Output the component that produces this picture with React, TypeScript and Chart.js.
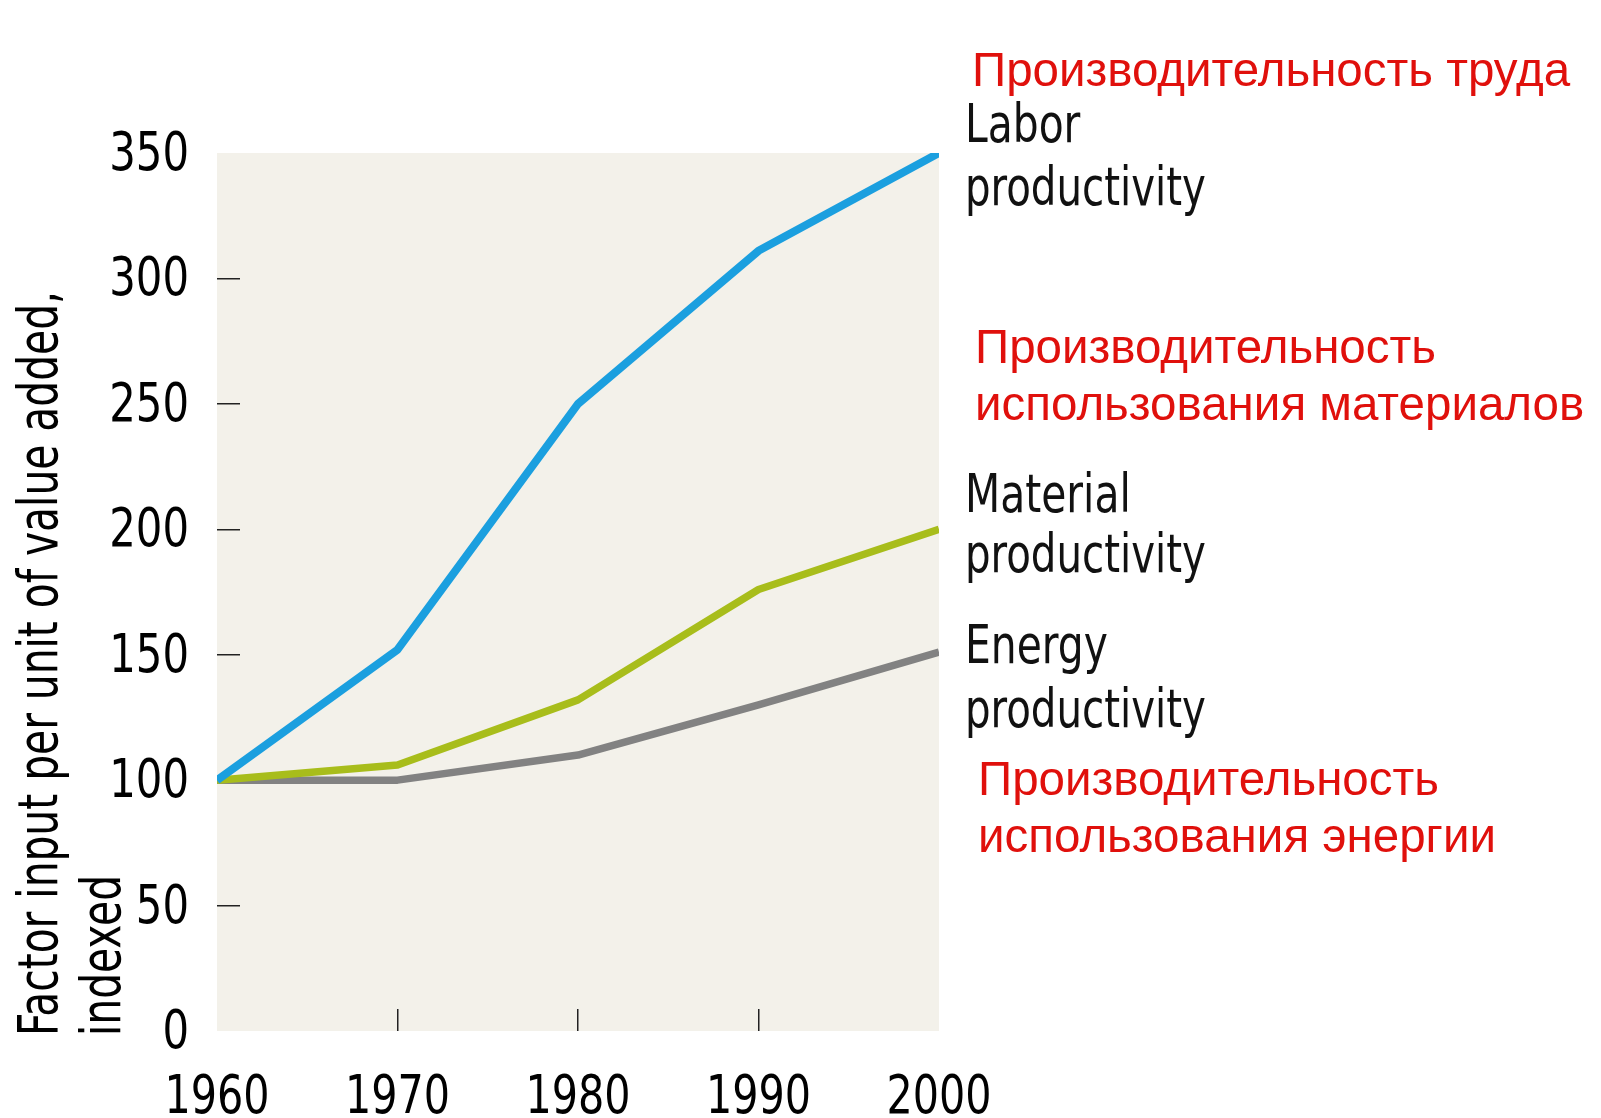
import React, { useEffect, useRef } from "react";
import { Chart, registerables } from "chart.js";

Chart.register(...registerables);

const years = [1960, 1970, 1980, 1990, 2000];
const laborProductivity = [100, 152, 250, 311, 350];
const materialProductivity = [100, 106, 132, 176, 200];
const energyProductivity = [100, 100, 110, 130, 151];
const xTickLabels = ["1960", "1970", "1980", "1990", "2000"];
const yTickValues = [0, 50, 100, 150, 200, 250, 300, 350];
const xMarkedTicks = [1970, 1980, 1990];
const yMarkedTicks = [50, 100, 150, 200, 250, 300];
const yTitleLines = ["Factor input per unit of value added,", "indexed"];
const blackLabels = [
  ["Labor", "productivity"],
  ["Material", "productivity"],
  ["Energy", "productivity"],
];
const redLabels = [
  ["Производительность труда"],
  ["Производительность", "использования материалов"],
  ["Производительность", "использования энергии"],
];

const CONDENSED = '"Liberation Sans Narrow", "DejaVu Sans Condensed", "Arial Narrow", sans-serif';
const REGULAR = '"Liberation Sans", Arial, sans-serif';

const toPoints = (ys: number[]) => years.map((x, i) => ({ x, y: ys[i] }));

function drawNarrow(
  ctx: CanvasRenderingContext2D,
  text: string,
  x: number,
  y: number,
  sx: number,
  align: CanvasTextAlign,
  baseline: CanvasTextBaseline
) {
  ctx.save();
  ctx.translate(x, y);
  ctx.scale(sx, 1);
  ctx.textAlign = align;
  ctx.textBaseline = baseline;
  ctx.fillText(text, 0, 0);
  ctx.restore();
}

export default function App() {
  const canvasRef = useRef<HTMLCanvasElement | null>(null);

  useEffect(() => {
    const canvas = canvasRef.current;
    if (!canvas) return;

    const bgPlugin = {
      id: "plotBg",
      beforeDraw(chart: any) {
        const { ctx, chartArea } = chart;
        ctx.save();
        ctx.fillStyle = "#f3f1ea";
        ctx.fillRect(chartArea.left, chartArea.top, chartArea.right - chartArea.left, chartArea.bottom - chartArea.top);
        ctx.restore();
      },
    };

    const textPlugin = {
      id: "texts",
      afterDraw(chart: any) {
        const ctx: CanvasRenderingContext2D = chart.ctx;
        const xs = chart.scales.x;
        const ys = chart.scales.y;
        ctx.save();
        ctx.fillStyle = "#000";
        ctx.font = `54px ${CONDENSED}`;
        // x tick labels
        xs.ticks.forEach((t: any, i: number) => {
          drawNarrow(ctx, xTickLabels[i], xs.getPixelForValue(t.value), 1099, 0.85, "center", "middle");
        });
        // y tick labels
        ys.ticks.forEach((t: any) => {
          drawNarrow(ctx, String(t.value), 189, ys.getPixelForValue(t.value) + 3, 0.86, "right", "middle");
        });
        // y title
        ctx.font = `56px ${CONDENSED}`;
        ctx.textAlign = "left";
        ctx.textBaseline = "middle";
        const titleX = [42, 105];
        const firstW = ctx.measureText(yTitleLines[0]).width;
        const tsx = 745 / firstW;
        yTitleLines.forEach((line, i) => {
          ctx.save();
          ctx.translate(titleX[i], 1036);
          ctx.rotate(-Math.PI / 2);
          ctx.scale(tsx, 1);
          ctx.fillText(line, 0, 0);
          ctx.restore();
        });
        // black series labels
        ctx.fillStyle = "#111";
        ctx.font = `54px ${CONDENSED}`;
        const blackPos = [
          [965, 142, 205],
          [965, 512, 572],
          [965, 663, 727],
        ];
        blackLabels.forEach((lines, i) => {
          drawNarrow(ctx, lines[0], blackPos[i][0], blackPos[i][1], 0.84, "left", "alphabetic");
          drawNarrow(ctx, lines[1], blackPos[i][0], blackPos[i][2], 0.83, "left", "alphabetic");
        });
        // red russian labels
        ctx.fillStyle = "#e0100c";
        ctx.font = `47.5px ${REGULAR}`;
        ctx.textAlign = "left";
        ctx.textBaseline = "alphabetic";
        const redPos = [
          [972, 86],
          [975, 363, 420],
          [978, 795, 852],
        ];
        redLabels.forEach((lines, i) => {
          lines.forEach((t, j) => ctx.fillText(t, redPos[i][0], redPos[i][1 + j]));
        });
        ctx.restore();
      },
    };

    const lineStyle = {
      pointRadius: 0,
      tension: 0,
      borderJoinStyle: "round",
      borderCapStyle: "butt",
    };

    const chart = new Chart(canvas, {
      type: "line",
      data: {
        datasets: [
          { label: "Labor productivity", data: toPoints(laborProductivity), borderColor: "#1b9fdf", borderWidth: 8, ...lineStyle },
          { label: "Material productivity", data: toPoints(materialProductivity), borderColor: "#a8bd1b", borderWidth: 7.5, ...lineStyle },
          { label: "Energy productivity", data: toPoints(energyProductivity), borderColor: "#828282", borderWidth: 7.5, ...lineStyle },
        ],
      },
      options: {
        responsive: false,
        animation: false,
        events: [],
        layout: { padding: { left: 0, top: 153, right: 662, bottom: 0 } },
        plugins: { legend: { display: false }, tooltip: { enabled: false } },
        scales: {
          x: {
            type: "linear",
            min: 1960,
            max: 2000,
            afterBuildTicks: (scale: any) => {
              scale.ticks = years.map((v) => ({ value: v }));
            },
            afterFit: (scale: any) => {
              scale.height = 87;
            },
            border: { display: false },
            grid: {
              drawOnChartArea: false,
              drawTicks: true,
              tickLength: -22,
              lineWidth: 1.5,
              color: (c: any) => (c.tick && xMarkedTicks.includes(c.tick.value) ? "#222" : "rgba(0,0,0,0)"),
            },
            ticks: { display: false },
          },
          y: {
            min: 0,
            max: 350,
            afterBuildTicks: (scale: any) => {
              scale.ticks = yTickValues.map((v) => ({ value: v }));
            },
            afterFit: (scale: any) => {
              scale.width = 217;
            },
            border: { display: false },
            grid: {
              drawOnChartArea: false,
              drawTicks: true,
              tickLength: -23,
              lineWidth: 1.5,
              color: (c: any) => (c.tick && yMarkedTicks.includes(c.tick.value) ? "#222" : "rgba(0,0,0,0)"),
            },
            ticks: { display: false },
          },
        },
      },
      plugins: [bgPlugin, textPlugin],
    } as any);

    return () => chart.destroy();
  }, []);

  return (
    <div style={{ position: "absolute", left: 0, top: 0, width: 1601, height: 1118, background: "#fff" }}>
      <canvas ref={canvasRef} width={1601} height={1118} style={{ display: "block" }} />
    </div>
  );
}
